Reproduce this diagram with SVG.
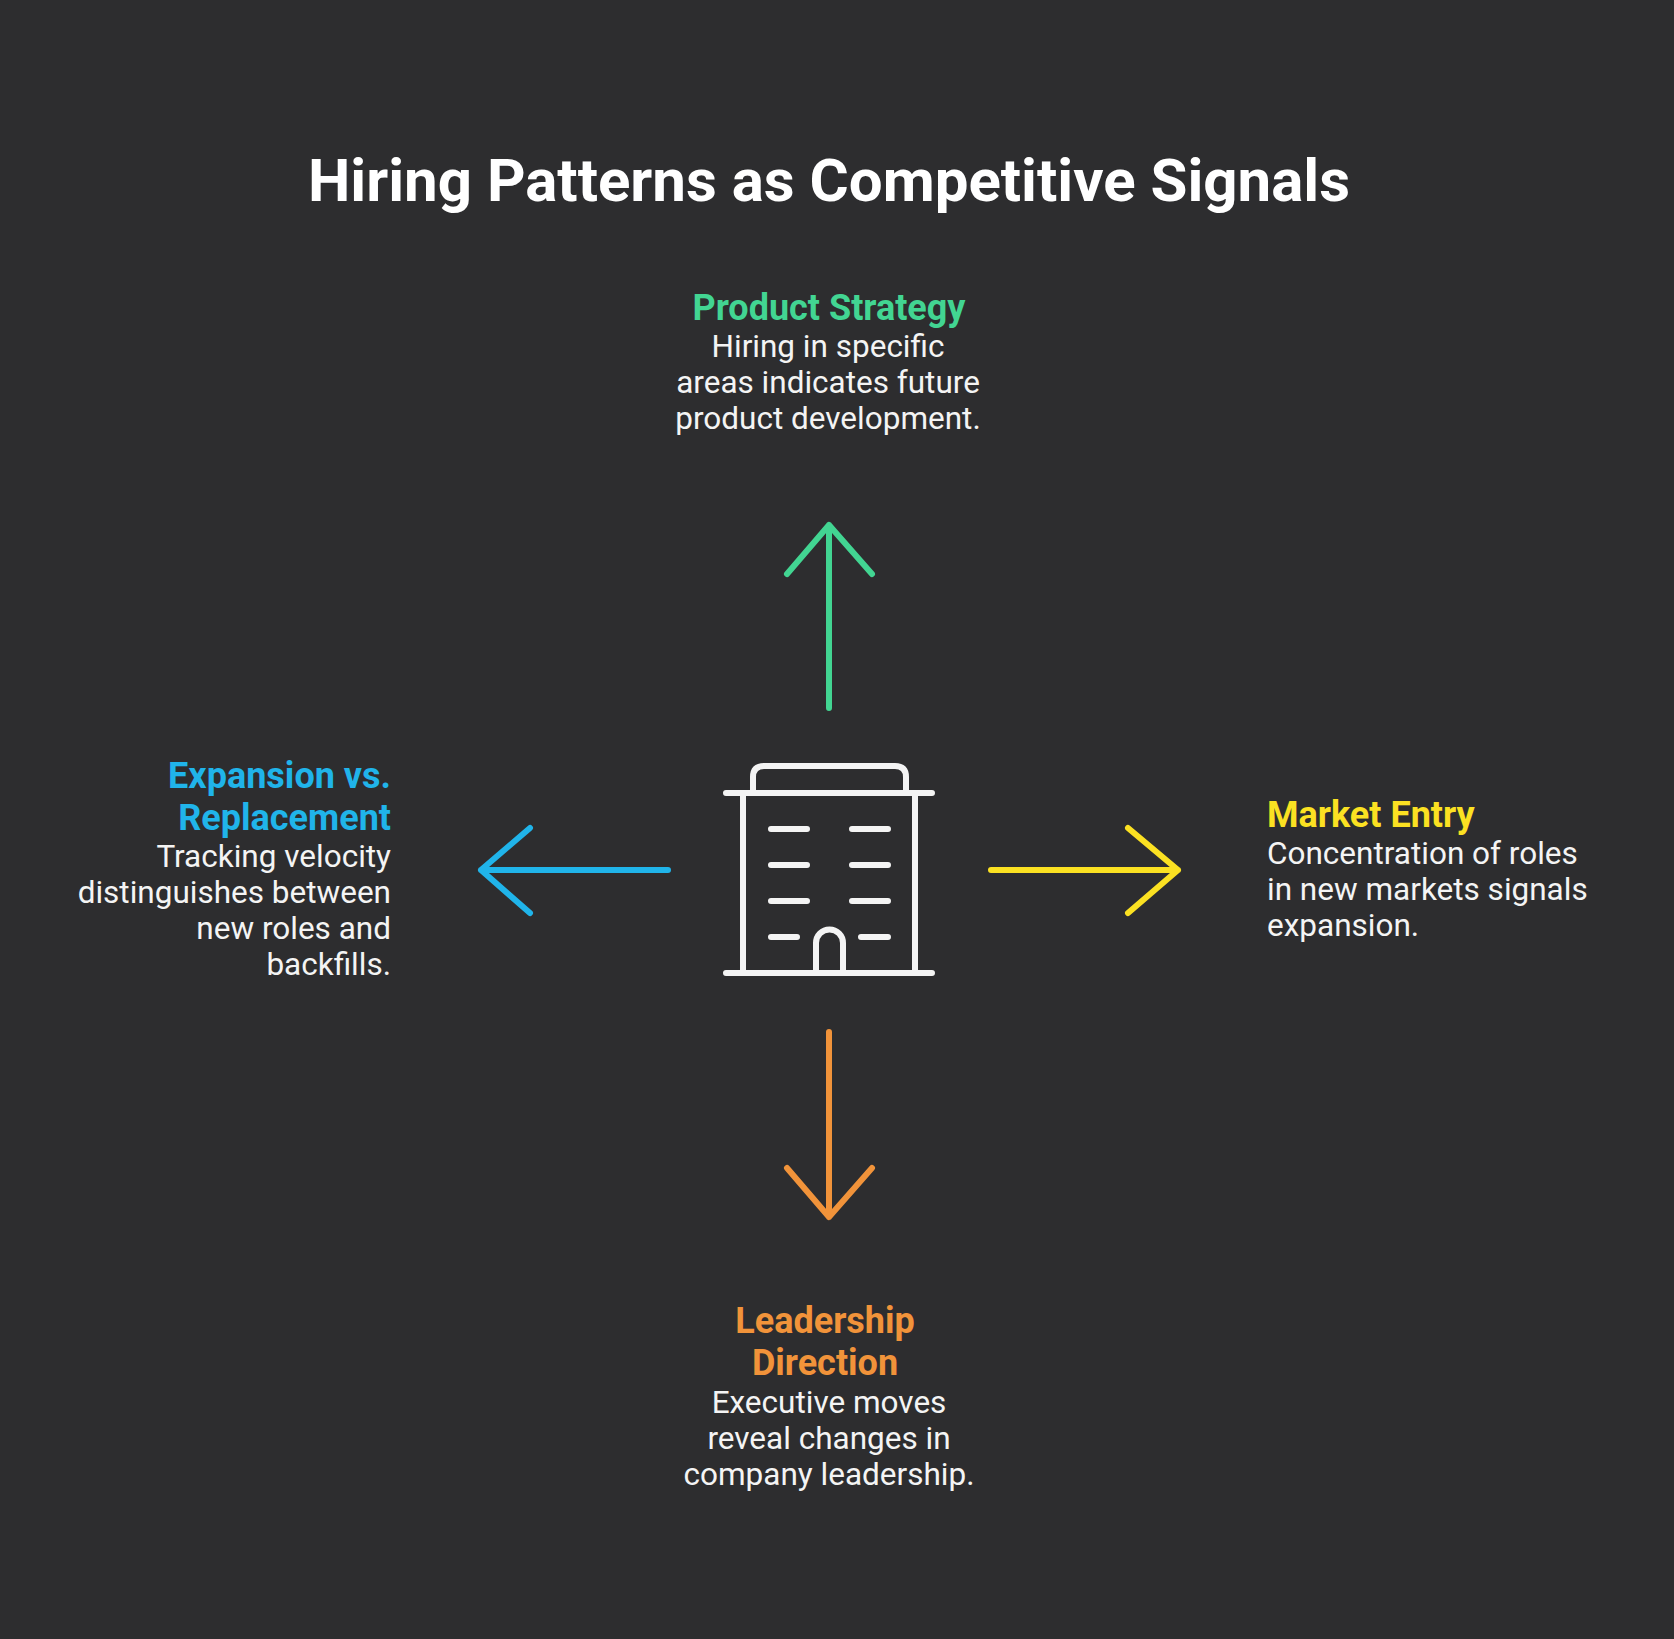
<svg xmlns="http://www.w3.org/2000/svg" width="1674" height="1639" viewBox="0 0 1674 1639">
<style>
text{font-family:Roboto,"Liberation Sans",sans-serif}
.t{font-size:60px;font-weight:700;fill:#fff}
.h{font-size:36px;font-weight:700}
.b{font-size:31.500px;fill:#f4f4f4}
.m{text-anchor:middle}.e{text-anchor:end}
.l{fill:none;stroke-width:6;stroke-linecap:round;stroke-linejoin:round}
</style>
<rect width="1674" height="1639" fill="#2d2d2f"/>
<text id="title" class="t m" x="829" y="201">Hiring Patterns as Competitive Signals</text>
<g id="connectors">
<path class="l" stroke="#42d592" d="M829 708V525M787 574L829 525L872 574"/>
<path class="l" stroke="#f1933a" d="M829 1032V1217M787 1168L829 1217L872 1168"/>
<path class="l" stroke="#20b4ea" d="M668 870H481M530 828L481 870L530 913"/>
<path class="l" stroke="#fbe122" d="M991 870H1178M1128 828L1178 870L1128 913"/>
</g>
<g id="center">
<path class="l" stroke="#f4f4f4" d="M726 793H932M743 793V973M915 793V973M726 973H932M753 793V777Q753 766 764 766H895Q906 766 906 777V793M771 829H807M852 829H888M771 865H807M852 865H888M771 901H807M852 901H888M771 937H797M861 937H888M816 973V943A13.500 13.500 0 0 1 843 943V973"/>
</g>
<g id="product-strategy">
<text class="h m" x="829" y="320" fill="#42d592">Product Strategy</text>
<text class="b m" x="828" y="357">Hiring in specific</text>
<text class="b m" x="828" y="393">areas indicates future</text>
<text class="b m" x="828" y="429">product development.</text>
</g>
<g id="expansion">
<text class="h e" x="391" y="788" fill="#20b4ea">Expansion vs.</text>
<text class="h e" x="391" y="830" fill="#20b4ea">Replacement</text>
<text class="b e" x="391" y="867">Tracking velocity</text>
<text class="b e" x="391" y="903">distinguishes between</text>
<text class="b e" x="391" y="939">new roles and</text>
<text class="b e" x="391" y="975">backfills.</text>
</g>
<g id="market-entry">
<text class="h" x="1267" y="827" fill="#fbe122">Market Entry</text>
<text class="b" x="1267" y="864">Concentration of roles</text>
<text class="b" x="1267" y="900">in new markets signals</text>
<text class="b" x="1267" y="936">expansion.</text>
</g>
<g id="leadership">
<text class="h m" x="825" y="1333" fill="#f1933a">Leadership</text>
<text class="h m" x="825" y="1375" fill="#f1933a">Direction</text>
<text class="b m" x="829" y="1413">Executive moves</text>
<text class="b m" x="829" y="1449">reveal changes in</text>
<text class="b m" x="829" y="1485">company leadership.</text>
</g>
</svg>
